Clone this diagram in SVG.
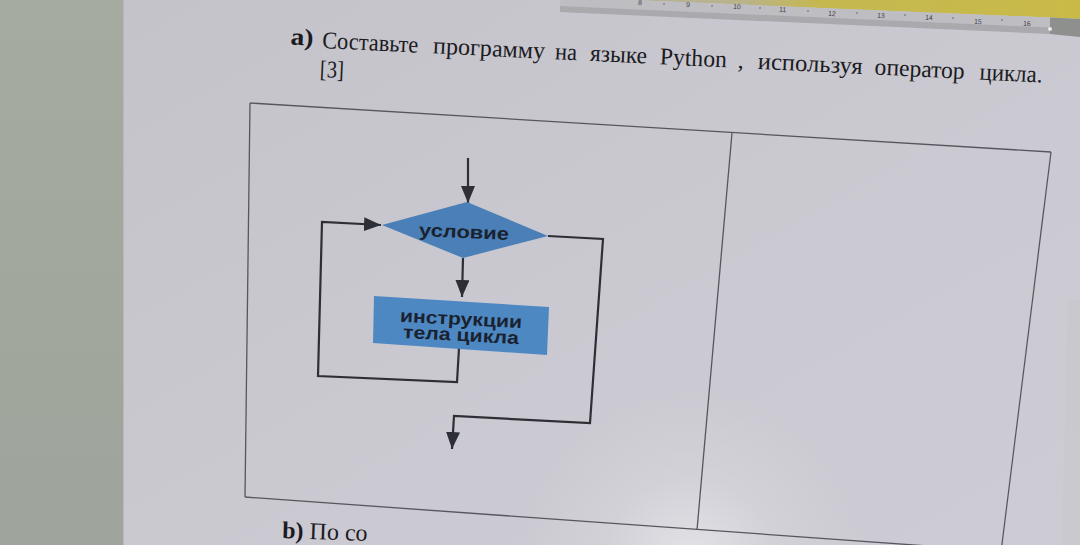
<svg xmlns="http://www.w3.org/2000/svg" width="1080" height="545" viewBox="0 0 1080 545">
  <defs>
    <linearGradient id="wall" x1="0" y1="0" x2="0" y2="1">
      <stop offset="0" stop-color="#a6ab9f"/>
      <stop offset="1" stop-color="#9fa49c"/>
    </linearGradient>
    <linearGradient id="page" x1="0" y1="0" x2="1" y2="1">
      <stop offset="0" stop-color="#c4c3ca"/>
      <stop offset="0.6" stop-color="#cbcad2"/>
      <stop offset="1" stop-color="#cdccd4"/>
    </linearGradient>
    <radialGradient id="glare" cx="690" cy="560" r="170" gradientUnits="userSpaceOnUse">
      <stop offset="0" stop-color="#ffffff" stop-opacity="0.45"/>
      <stop offset="0.5" stop-color="#ffffff" stop-opacity="0.12"/>
      <stop offset="1" stop-color="#ffffff" stop-opacity="0"/>
    </radialGradient>
    <linearGradient id="yellow" x1="560" y1="0" x2="1080" y2="0" gradientUnits="userSpaceOnUse">
      <stop offset="0" stop-color="#b2b1aa"/>
      <stop offset="0.35" stop-color="#b9b38a"/>
      <stop offset="0.5" stop-color="#c4b850"/>
      <stop offset="1" stop-color="#c9ba48"/>
    </linearGradient>
    <marker id="arr" viewBox="0 0 17 14" refX="17" refY="7" markerWidth="17" markerHeight="14" markerUnits="userSpaceOnUse" orient="auto">
      <path d="M0,0 L17,7 L0,14 z" fill="#2e2f36"/>
    </marker>
    <style>
      .tbl { fill: none; stroke: #56565e; stroke-width: 1.3; }
      .con { fill: none; stroke: #2e2f36; stroke-width: 2.2; stroke-linejoin: miter; }
      .hdr { font-family: "Liberation Serif", "Times New Roman", serif; font-size: 24px; fill: #1b1b22; }
      .lbl { font-family: "Liberation Sans", Arial, sans-serif; font-weight: bold; font-size: 18px; fill: #1a2230; }
      .rul { font-family: "Liberation Sans", Arial, sans-serif; font-size: 7px; fill: #444448; }
      .tick { stroke: #6a6a70; stroke-width: 1; }
    </style>
  </defs>

  <!-- backdrop and page -->
  <rect x="0" y="0" width="124" height="545" fill="url(#wall)"/>
  <rect x="123" y="0" width="957" height="545" fill="url(#page)"/>
  <line x1="123.5" y1="0" x2="123.5" y2="545" stroke="#b8b8bc" stroke-width="1"/>
  <rect x="123" y="0" width="957" height="545" fill="url(#glare)"/>
  <polygon points="1068,300 1080,300 1080,545 1062,545" fill="#c3c3c9" opacity="0.35"/>

  <!-- ruler strip at top right -->
  <polygon points="560,-4 1080,-4 1080,19 1050,17.5 560,-3" fill="url(#yellow)"/>
  <polygon points="560,-3 1050,17.5 1050,27.5 560,6" fill="#bebdc2"/>
  <polygon points="560,6 1050,27.5 1050,34 560,12" fill="#a9a9ae"/>
  <polygon points="1050,17.5 1080,19 1080,37 1050,34" fill="#8d908d"/>
  <g id="ruler">
    <text class="rul" x="638" y="5" transform="rotate(2.4 640 3)">8</text>
    <text class="rul" x="686" y="7" transform="rotate(2.4 688 5)">9</text>
    <text class="rul" x="733" y="9" transform="rotate(2.4 737 7)">10</text>
    <text class="rul" x="779" y="12" transform="rotate(2.4 783 10)">11</text>
    <text class="rul" x="828" y="16" transform="rotate(2.4 832 14)">12</text>
    <text class="rul" x="877" y="18" transform="rotate(2.4 881 16)">13</text>
    <text class="rul" x="925" y="20" transform="rotate(2.4 929 18)">14</text>
    <text class="rul" x="974" y="24" transform="rotate(2.4 978 22)">15</text>
    <text class="rul" x="1023" y="26" transform="rotate(2.4 1027 24)">16</text>
    <g class="tick">
      <line x1="664" y1="3" x2="664" y2="5"/>
      <line x1="712" y1="5" x2="712" y2="7"/>
      <line x1="760" y1="7" x2="760" y2="9"/>
      <line x1="808" y1="10" x2="808" y2="12"/>
      <line x1="857" y1="12" x2="857" y2="14"/>
      <line x1="905" y1="14" x2="905" y2="16"/>
      <line x1="953" y1="17" x2="953" y2="19"/>
      <line x1="1002" y1="19" x2="1002" y2="21"/>
    </g>
    <circle cx="1050" cy="29" r="2" fill="#e8e8ea"/>
  </g>

  <!-- header text -->
  <g id="header" transform="rotate(2.75 322 48)">
    <text class="hdr" x="290" y="46" font-weight="bold" textLength="23" lengthAdjust="spacingAndGlyphs">а)</text>
    <text class="hdr" x="322" y="48" textLength="96" lengthAdjust="spacingAndGlyphs">Составьте</text>
    <text class="hdr" x="433" y="48" textLength="112" lengthAdjust="spacingAndGlyphs">программу</text>
    <text class="hdr" x="555" y="48" textLength="22" lengthAdjust="spacingAndGlyphs">на</text>
    <text class="hdr" x="590" y="48" textLength="57" lengthAdjust="spacingAndGlyphs">языке</text>
    <text class="hdr" x="660" y="48" textLength="67" lengthAdjust="spacingAndGlyphs">Python</text>
    <text class="hdr" x="738" y="48">,</text>
    <text class="hdr" x="758" y="48" textLength="105" lengthAdjust="spacingAndGlyphs">используя</text>
    <text class="hdr" x="875" y="48" textLength="90" lengthAdjust="spacingAndGlyphs">оператор</text>
    <text class="hdr" x="980" y="48" textLength="63" lengthAdjust="spacingAndGlyphs">цикла.</text>
    <text class="hdr" x="321" y="77" textLength="24" lengthAdjust="spacingAndGlyphs">[3]</text>
  </g>

  <!-- table frame -->
  <g id="table">
    <line class="tbl" x1="250" y1="103" x2="1051" y2="152"/>
    <line class="tbl" x1="250" y1="103" x2="245" y2="497"/>
    <line class="tbl" x1="245" y1="497" x2="1012" y2="552"/>
    <line class="tbl" x1="1051" y1="152" x2="1001" y2="552"/>
    <line class="tbl" x1="732" y1="133" x2="697" y2="530"/>
  </g>

  <!-- connectors -->
  <g id="connectors">
    <path class="con" d="M468,158 L468,203" marker-end="url(#arr)"/>
    <path class="con" d="M463,258 L462,297" marker-end="url(#arr)"/>
    <path class="con" d="M459,348 L457,382 L318,376 L322,222 L381,225" marker-end="url(#arr)"/>
    <path class="con" d="M548,236 L603,239 L590,423 L454,416 L452,449" marker-end="url(#arr)"/>
  </g>

  <!-- nodes -->
  <g id="cond">
    <polygon points="382,225 467,202 548,236 463,258" fill="#4a7fb7"/>
    <text class="lbl" x="464" y="238" text-anchor="middle" textLength="90" lengthAdjust="spacingAndGlyphs" transform="rotate(2.6 464 232)">условие</text>
  </g>
  <g id="body">
    <polygon points="374,296 549,307 547,355 373,343" fill="#4e88c3"/>
    <text class="lbl" x="461" y="325" text-anchor="middle" font-size="17" textLength="122" lengthAdjust="spacingAndGlyphs" transform="rotate(3 461 320)">инструкции</text>
    <text class="lbl" x="461" y="341" text-anchor="middle" font-size="17" textLength="116" lengthAdjust="spacingAndGlyphs" transform="rotate(3 461 336)">тела цикла</text>
  </g>

  <!-- next item, at the bottom edge -->
  <text class="hdr" x="282" y="538" font-size="20" transform="rotate(2 282 538)"><tspan font-weight="bold">b)</tspan> По со</text>
</svg>
